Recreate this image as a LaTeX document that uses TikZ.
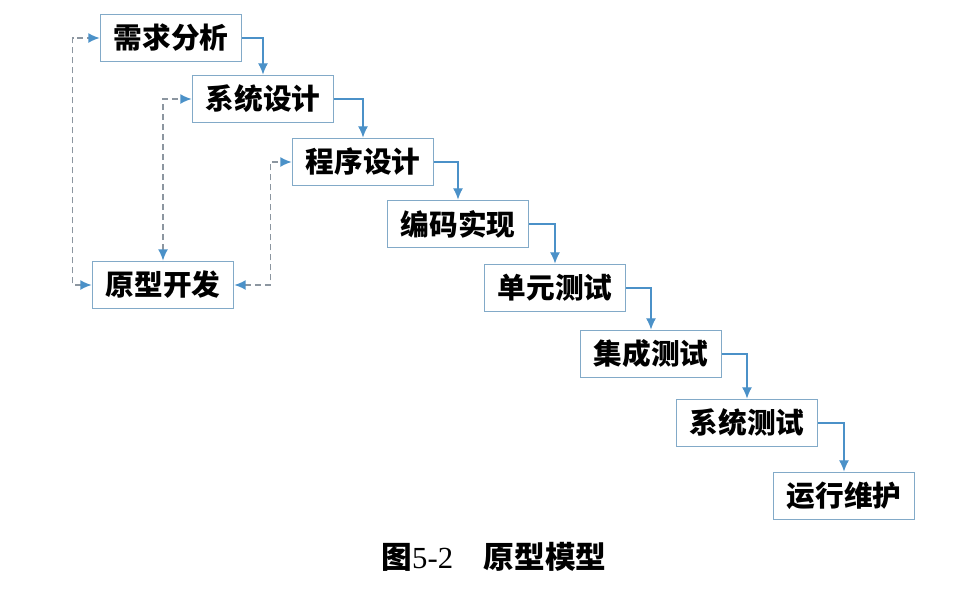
\documentclass[tikz,border=0pt]{standalone}
\usepackage{fontspec}
\setmainfont{Liberation Serif}
\newfontfamily\cjk{Noto Sans CJK SC}
\usetikzlibrary{arrows.meta}
\definecolor{boxline}{RGB}{130,170,200}
\definecolor{flowblue}{RGB}{75,145,200}
\definecolor{dashgray}{RGB}{140,150,160}

\begin{document}
\begin{tikzpicture}[x=0.75pt,y=-0.75pt,
        stage/.style={draw=boxline, line width=1.3pt, fill=white,
            minimum width=105.75pt, minimum height=35.25pt,
            inner sep=0pt, font=\cjk\bfseries\fontsize{21.5}{23}\selectfont},
        flow/.style={draw=flowblue, line width=1pt,
            -{Latex[length=8.5pt,width=7.5pt,color=flowblue]}},
        back/.style={draw=dashgray, line width=1.1pt, dash pattern=on 4.5pt off 3pt,
            {Latex[length=8.5pt,width=7.5pt,color=flowblue]}-{Latex[length=8.5pt,width=7.5pt,color=flowblue]}}]
        \useasboundingbox (0,0) rectangle (972,612);

        \node[stage] (req)   at (171, 38)  {需求分析};
        \node[stage] (sys)   at (263, 99)  {系统设计};
        \node[stage] (prog)  at (363, 162) {程序设计};
        \node[stage] (code)  at (458, 224) {编码实现};
        \node[stage] (unit)  at (555, 288) {单元测试};
        \node[stage] (integ) at (651, 354) {集成测试};
        \node[stage] (systest) at (747, 423) {系统测试};
        \node[stage] (maint) at (844, 496) {运行维护};
        \node[stage] (proto) at (163, 285) {原型开发};

        \draw[flow] (req.east) -| (sys.north);
        \draw[flow] (sys.east) -| (prog.north);
        \draw[flow] (prog.east) -| (code.north);
        \draw[flow] (code.east) -| (unit.north);
        \draw[flow] (unit.east) -| (integ.north);
        \draw[flow] (integ.east) -| (systest.north);
        \draw[flow] (systest.east) -| (maint.north);

        \draw[back] (proto.west) -- ++(-19,0) |- (req.west);
        \draw[back] (proto.north) |- (sys.west);
        \draw[back] (proto.east) -- ++(36,0) |- (prog.west);

        \node[font=\fontsize{23}{26}\selectfont] (title) at (494, 557)
            {{\cjk\bfseries 图}5-2\hspace{1em}{\cjk\bfseries 原型模型}};
\end{tikzpicture}
\end{document}
